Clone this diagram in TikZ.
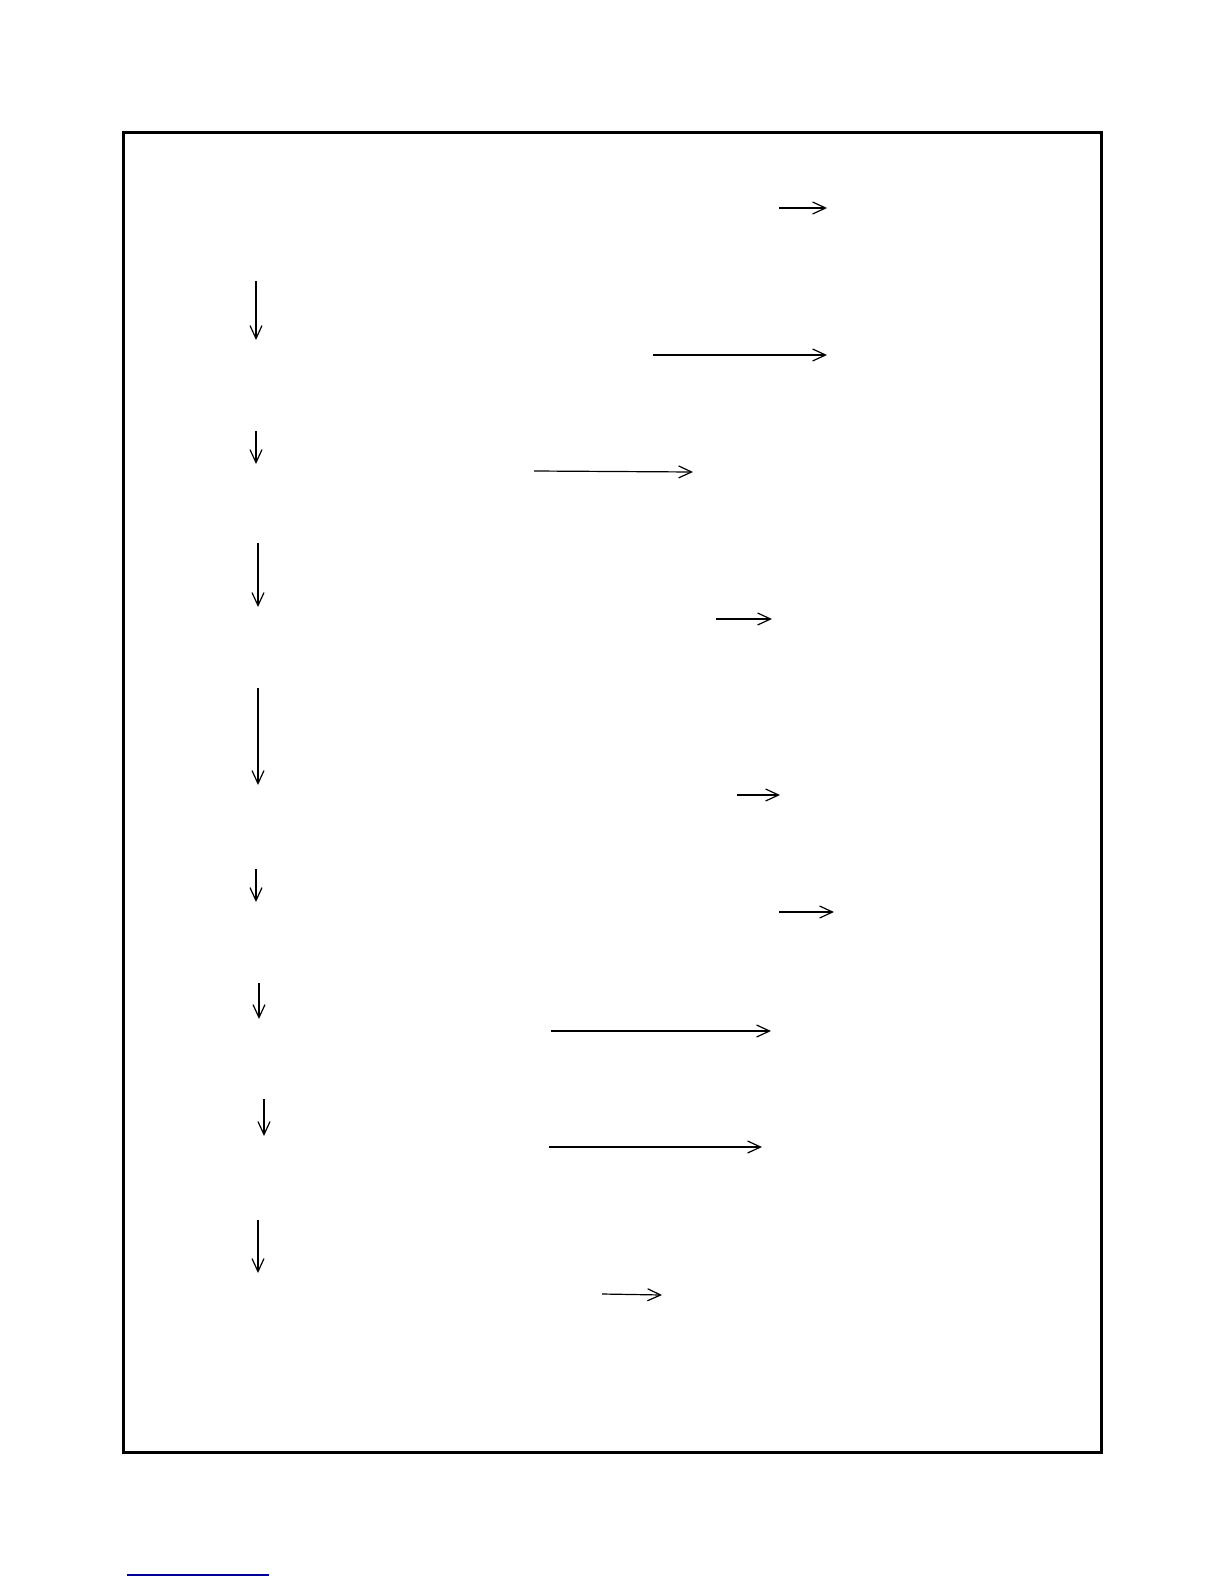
\documentclass[tikz,border=0pt]{standalone}
\usepackage{xcolor}
\usepackage{tikz}
\usetikzlibrary{arrows.meta}
\usetikzlibrary{positioning}
\tikzset{
  MyArrow/.style={
    -{Straight Barb[length=6.5pt,width=6pt]},
    line width=0.6pt, draw=black,
  },
  MyFrame/.style={line width=1.5pt, draw=black},
}

\begin{document}
\begin{tikzpicture}[x=0.5pt,y=-0.5pt]
\useasboundingbox (0,0) rectangle (1224,1584);
\draw[MyFrame] (123,133) rectangle (1101,1452);
\coordinate (R1a) at (779,208);  \coordinate (R1b) at (827,208);
\coordinate (R2a) at (653,355);  \coordinate (R2b) at (827,355);
\coordinate (R3a) at (534,471);  \coordinate (R3b) at (693,472);
\coordinate (R4a) at (716,619);  \coordinate (R4b) at (772,619);
\coordinate (R5a) at (737,795);  \coordinate (R5b) at (780,795);
\coordinate (R6a) at (779,912);  \coordinate (R6b) at (834,912);
\coordinate (R7a) at (551,1031); \coordinate (R7b) at (771,1031);
\coordinate (R8a) at (549,1147); \coordinate (R8b) at (762,1147);
\coordinate (R9a) at (602,1294); \coordinate (R9b) at (662,1295);
\coordinate (D1a) at (256,281);  \coordinate (D1b) at (256,340);
\coordinate (D2a) at (256,431);  \coordinate (D2b) at (256,464);
\coordinate (D3a) at (258,543);  \coordinate (D3b) at (258,607);
\coordinate (D4a) at (258,688);  \coordinate (D4b) at (258,785);
\coordinate (D5a) at (256,869);  \coordinate (D5b) at (256,902);
\coordinate (D6a) at (259,983);  \coordinate (D6b) at (259,1019);
\coordinate (D7a) at (264,1099); \coordinate (D7b) at (264,1136);
\coordinate (D8a) at (258,1220); \coordinate (D8b) at (258,1273);
\coordinate (FNa) at (127,1575); \coordinate (FNb) at (269,1575);
\draw[MyArrow] (R1a) to (R1b);
\draw[MyArrow] (R2a) to (R2b);
\draw[MyArrow] (R3a) to (R3b);
\draw[MyArrow] (R4a) to (R4b);
\draw[MyArrow] (R5a) to (R5b);
\draw[MyArrow] (R6a) to (R6b);
\draw[MyArrow] (R7a) to (R7b);
\draw[MyArrow] (R8a) to (R8b);
\draw[MyArrow] (R9a) to (R9b);
\draw[MyArrow] (D1a) to (D1b);
\draw[MyArrow] (D2a) to (D2b);
\draw[MyArrow] (D3a) to (D3b);
\draw[MyArrow] (D4a) to (D4b);
\draw[MyArrow] (D5a) to (D5b);
\draw[MyArrow] (D6a) to (D6b);
\draw[MyArrow] (D7a) to (D7b);
\draw[MyArrow] (D8a) to (D8b);
\draw[draw=blue!60!black, line width=0.6pt] (FNa) to (FNb);
\end{tikzpicture}
\end{document}
